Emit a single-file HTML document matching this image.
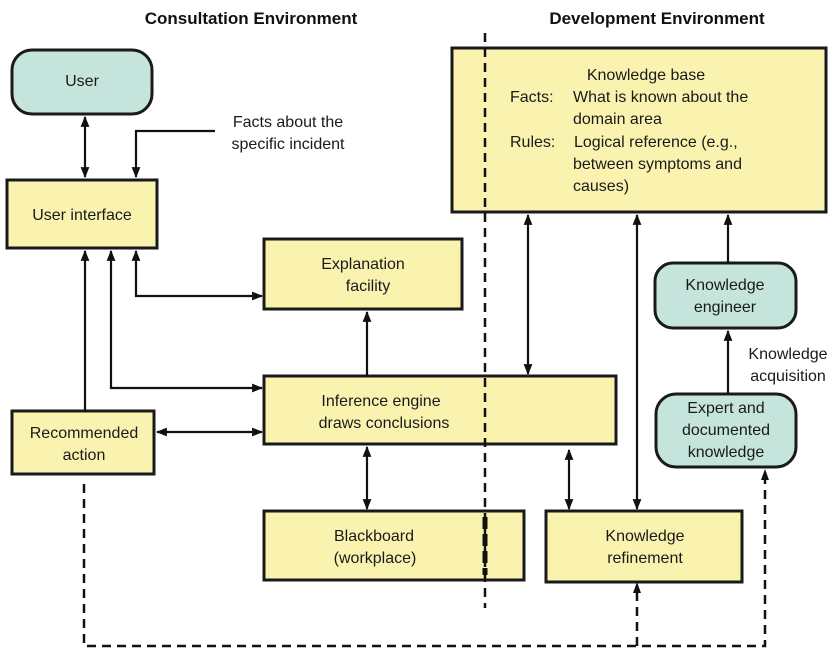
<!DOCTYPE html>
<html><head><meta charset="utf-8"><style>
html,body{margin:0;padding:0;background:#fff;}
svg{display:block;font-family:"Liberation Sans",Arial,sans-serif;}
</style></head><body>
<svg width="838" height="651" viewBox="0 0 838 651" xmlns="http://www.w3.org/2000/svg">
<defs>
<marker id="a" viewBox="0 0 10 10" refX="9" refY="5" markerWidth="11" markerHeight="11" orient="auto-start-reverse" markerUnits="userSpaceOnUse">
<path d="M0,1 L10,5 L0,9 z" fill="#111"/></marker>
</defs>
<rect width="838" height="651" fill="#fff"/>
<g font-weight="bold" font-size="17" fill="#111" text-anchor="middle">
<text x="251" y="24">Consultation Environment</text>
<text x="657" y="24">Development Environment</text>
</g>
<g stroke="#1a1a1a" stroke-width="3" fill="#faf3b0">
<rect x="452" y="48" width="374" height="164"/>
<rect x="7" y="180" width="150" height="68"/>
<rect x="264" y="239" width="198" height="70"/>
<rect x="264" y="376" width="352" height="68"/>
<rect x="12" y="411" width="142" height="63"/>
<rect x="264" y="511" width="260" height="69"/>
<rect x="546" y="511" width="196" height="71"/>
</g>
<g stroke="#1a1a1a" stroke-width="3" fill="#c5e5dc">
<rect x="12" y="50" width="140" height="64" rx="20"/>
<rect x="655" y="263" width="141" height="65" rx="18"/>
<rect x="656" y="394" width="140" height="73" rx="20"/>
</g>
<g stroke="#111" stroke-width="2.5" stroke-dasharray="9,6" fill="none">
<line x1="485" y1="33" x2="485" y2="608"/>
<polyline points="84,484 84,646 765,646 765,476"/>
<line x1="637" y1="646" x2="637" y2="588"/>
</g>
<line x1="485" y1="517" x2="485" y2="575" stroke="#111" stroke-width="5" stroke-dasharray="12,5"/>
<path d="M765,469 l-4,11 h8 z M637,582 l-4,11 h8 z" fill="#111"/>
<g stroke="#111" stroke-width="2.2" fill="none">
<line x1="85" y1="117" x2="85" y2="177" marker-start="url(#a)" marker-end="url(#a)"/>
<polyline points="215,131 136,131 136,177" marker-end="url(#a)"/>
<line x1="85" y1="411" x2="85" y2="251" marker-end="url(#a)"/>
<polyline points="111,251 111,388 262,388" marker-start="url(#a)" marker-end="url(#a)"/>
<polyline points="136,251 136,296 262,296" marker-start="url(#a)" marker-end="url(#a)"/>
<line x1="367" y1="376" x2="367" y2="312" marker-end="url(#a)"/>
<line x1="157" y1="432" x2="262" y2="432" marker-start="url(#a)" marker-end="url(#a)"/>
<line x1="367" y1="447" x2="367" y2="509" marker-start="url(#a)" marker-end="url(#a)"/>
<line x1="528" y1="215" x2="528" y2="374" marker-start="url(#a)" marker-end="url(#a)"/>
<line x1="637" y1="215" x2="637" y2="509" marker-start="url(#a)" marker-end="url(#a)"/>
<line x1="728" y1="263" x2="728" y2="215" marker-end="url(#a)"/>
<line x1="728" y1="394" x2="728" y2="331" marker-end="url(#a)"/>
<line x1="569" y1="450" x2="569" y2="509" marker-start="url(#a)" marker-end="url(#a)"/>
</g>
<g font-size="16" fill="#1a1a1a" text-anchor="middle">
<text x="82" y="86">User</text>
<text x="82" y="220">User interface</text>
<text x="363" y="269">Explanation</text>
<text x="368" y="291">facility</text>
<text x="381" y="406">Inference engine</text>
<text x="384" y="428">draws conclusions</text>
<text x="84" y="438">Recommended</text>
<text x="84" y="460">action</text>
<text x="374" y="541">Blackboard</text>
<text x="375" y="563">(workplace)</text>
<text x="645" y="541">Knowledge</text>
<text x="645" y="563">refinement</text>
<text x="725" y="290">Knowledge</text>
<text x="725" y="312">engineer</text>
<text x="726" y="413">Expert and</text>
<text x="726" y="435">documented</text>
<text x="726" y="457">knowledge</text>
<text x="288" y="127">Facts about the</text>
<text x="288" y="149">specific incident</text>
<text x="788" y="359">Knowledge</text>
<text x="788" y="381">acquisition</text>
<text x="646" y="80">Knowledge base</text>
</g>
<g font-size="16" fill="#1a1a1a">
<text x="510" y="102">Facts:</text>
<text x="573" y="102">What is known about the</text>
<text x="573" y="124">domain area</text>
<text x="510" y="147">Rules:</text>
<text x="574" y="147">Logical reference (e.g.,</text>
<text x="573" y="169">between symptoms and</text>
<text x="573" y="191">causes)</text>
</g>
</svg>
</body></html>
